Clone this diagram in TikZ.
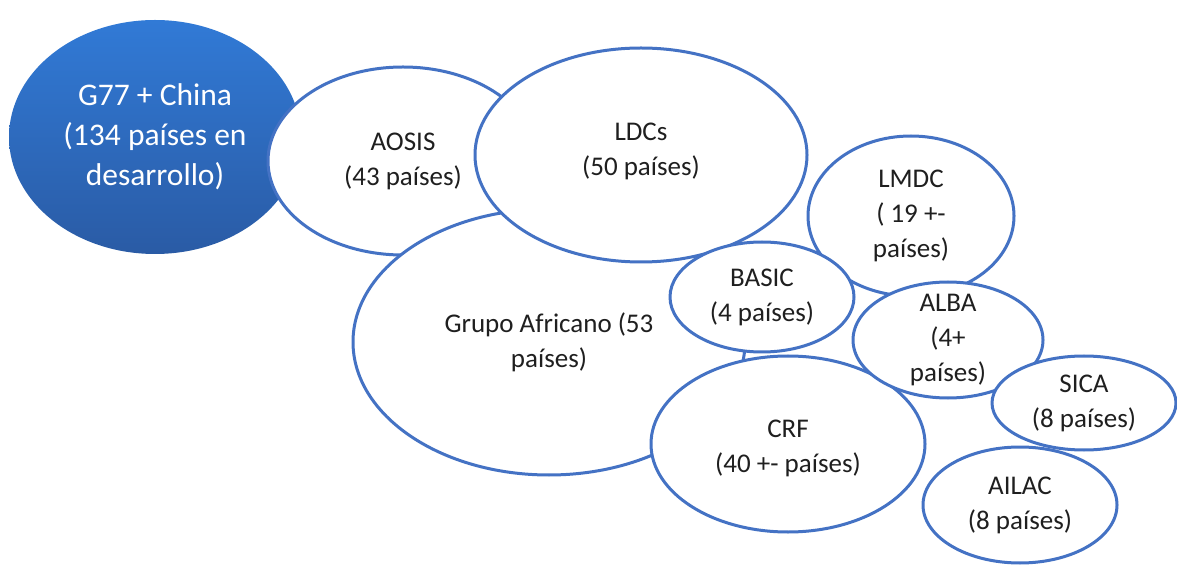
\documentclass[tikz,border=0pt]{standalone}
\usepackage{fontspec}
\setmainfont{Carlito}
\usetikzlibrary{shapes.geometric}
\definecolor{lineblue}{HTML}{4472C4}
\definecolor{gtop}{HTML}{317AD6}
\definecolor{gbot}{HTML}{2A5BA5}
\begin{document}
\begin{tikzpicture}[x=0.5pt,y=-0.5pt,
  sz/.style 2 args={minimum width=#1pt, minimum height=#2pt},
  grp/.style={ellipse, draw=lineblue, line width=1.5pt, fill=white, inner sep=0pt},
  lbl/.style={align=center, text=black!88, font=\fontsize{13.5}{17.5}\selectfont, inner sep=0pt},
  wlbl/.style={align=center, text=white, font=\fontsize{15.75}{20}\selectfont, inner sep=0pt}]
\path[use as bounding box, fill=white] (0,0) rectangle (1177,566);
\node[ellipse, inner sep=0pt, top color=gtop, bottom color=gbot, sz={146}{117},
  label={[wlbl]center:G77 + China\\(134 países en\\desarrollo)}] (g77) at (155,137) {};
\node[grp, sz={135}{94}, label={[lbl]center:AOSIS\\(43 países)}] (aosis) at (403,161) {};
\node[grp, sz={196}{133}, label={[lbl]center:Grupo Africano (53\\países)}] (africa) at (549,342) {};
\node[grp, sz={166}{107}, label={[lbl, yshift=2pt]center:LDCs\\(50 países)}] (ldc) at (641,155) {};
\node[grp, sz={103}{80}, label={[lbl]center:LMDC\\( 19 +-\\países)}] (lmdc) at (911,216) {};
\node[grp, sz={137}{88}, label={[lbl, yshift=-2pt]center:CRF\\(40 +- países)}] (crf) at (788,444) {};
\node[grp, sz={92}{55}, label={[lbl]center:BASIC\\(4 países)}] (basic) at (762,297) {};
\node[grp, sz={95}{58}, label={[lbl]center:ALBA\\(4+\\países)}] (alba) at (948,340) {};
\node[grp, sz={92}{47}, label={[lbl]center:SICA\\(8 países)}] (sica) at (1084,403) {};
\node[grp, sz={97}{58}, label={[lbl]center:AILAC\\(8 países)}] (ailac) at (1020,505) {};
\end{tikzpicture}
\end{document}
